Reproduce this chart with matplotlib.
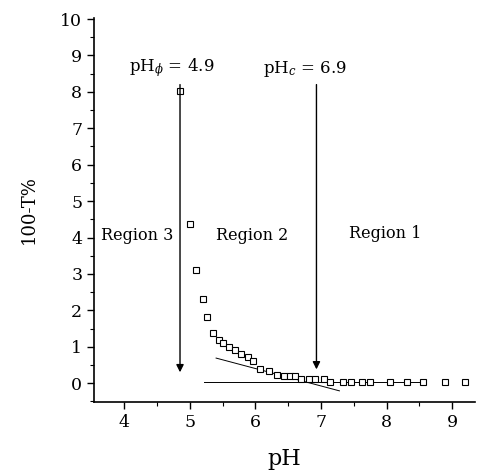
import matplotlib
matplotlib.use('Agg')
import matplotlib.pyplot as plt
from matplotlib.ticker import MultipleLocator

# measured points (pH, 100-T%)
ph = [4.85, 5.00, 5.10, 5.20, 5.26, 5.35, 5.44, 5.50, 5.60, 5.69, 5.78, 5.89,
      5.97, 6.07, 6.21, 6.33, 6.43, 6.52, 6.61, 6.70, 6.81, 6.91, 7.04, 7.14,
      7.34, 7.45, 7.62, 7.74, 8.05, 8.31, 8.56, 8.89, 9.20]
turb = [8.02, 4.38, 3.10, 2.30, 1.82, 1.39, 1.20, 1.11, 1.00, 0.90, 0.80, 0.72,
        0.60, 0.40, 0.34, 0.22, 0.19, 0.20, 0.20, 0.11, 0.11, 0.11, 0.11, 0.02,
        0.02, 0.02, 0.02, 0.02, 0.02, 0.02, 0.02, 0.02, 0.02]

# baseline and tangent lines
base_x = [5.21, 8.56]
base_y = [0.03, 0.03]
tan_x = [5.40, 7.28]
tan_y = [0.69, -0.21]

# arrows marking the transitions
arrow_x = [4.85, 6.93]
arrow_top = 8.2
arrow_tip = [0.3, 0.38]

plt.rcParams['font.family'] = ['DejaVu Serif']
plt.rcParams['mathtext.fontset'] = 'dejavuserif'

fig = plt.figure(figsize=(4.8, 4.72), dpi=100)
ax = fig.add_axes([0.196, 0.148, 0.794, 0.814])

ax.plot(base_x, base_y, color='k', lw=0.7)
ax.plot(tan_x, tan_y, color='k', lw=0.7)
ax.plot(ph, turb, ls='none', marker='s', ms=4.6, mfc='white', mec='k', mew=0.8)

for x, tip in zip(arrow_x, arrow_tip):
    ax.annotate('', xy=(x, tip), xytext=(x, arrow_top),
                arrowprops=dict(arrowstyle='-|>', color='k', lw=1.0,
                                mutation_scale=11, shrinkA=0, shrinkB=0))

ax.text(4.73, 8.68, r'pH$_{\phi}$ = 4.9', fontsize=12, ha='center', va='center')
ax.text(6.76, 8.62, r'pH$_{c}$ = 6.9', fontsize=12, ha='center', va='center')
ax.text(4.2, 4.05, 'Region 3', fontsize=11.5, ha='center', va='center')
ax.text(5.95, 4.05, 'Region 2', fontsize=11.5, ha='center', va='center')
ax.text(7.98, 4.1, 'Region 1', fontsize=11.5, ha='center', va='center')

ax.set_xlim(3.54, 9.35)
ax.set_ylim(-0.52, 10.03)
ax.xaxis.set_major_locator(MultipleLocator(1))
ax.xaxis.set_minor_locator(MultipleLocator(0.5))
ax.yaxis.set_major_locator(MultipleLocator(1))
ax.yaxis.set_minor_locator(MultipleLocator(0.5))
ax.set_xticks([4, 5, 6, 7, 8, 9])
ax.set_yticks(range(0, 11))

for s in ['top', 'right']:
    ax.spines[s].set_visible(False)
ax.spines['left'].set_linewidth(1.2)
ax.spines['bottom'].set_linewidth(1.2)
ax.tick_params(which='major', direction='out', length=5, width=1, labelsize=12.5)
ax.tick_params(which='minor', direction='out', length=3, width=0.8)

ax.set_xlabel('pH', fontsize=16, labelpad=12)
ax.set_ylabel('100-T%', fontsize=13, labelpad=16)

fig.savefig('out.png', dpi=100)
